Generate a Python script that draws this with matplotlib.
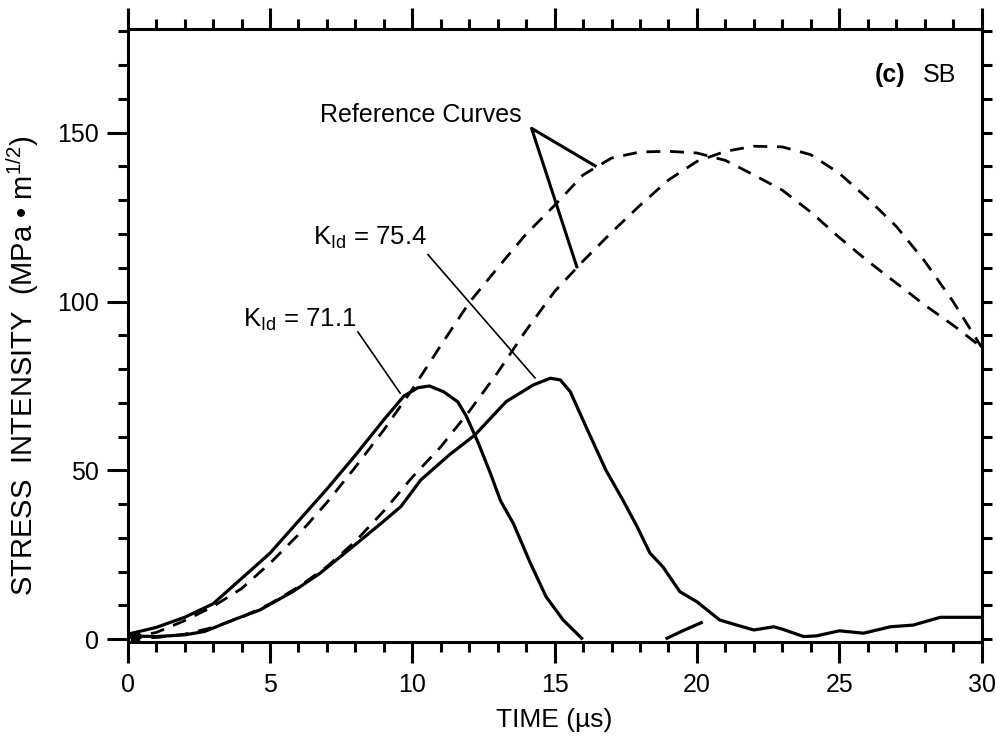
import matplotlib
matplotlib.use('Agg')
import matplotlib.pyplot as plt
from matplotlib.ticker import MultipleLocator

plt.rcParams['font.family'] = ['Liberation Sans', 'DejaVu Sans']
plt.rcParams['mathtext.fontset'] = 'custom'
plt.rcParams['mathtext.rm'] = 'Liberation Sans'
plt.rcParams['mathtext.it'] = 'Liberation Sans'

# reference curve 1 (pairs with K_Id = 71.1)
ref1_t = [0, 1, 2, 3, 4, 5, 6, 7, 8, 9, 10, 11, 12, 13, 14, 15, 16, 17, 18, 19, 20,
          21, 22, 23, 24, 25, 26, 27, 28, 29, 30]
ref1_k = [0.5, 2, 5.5, 9.7, 15, 22.5, 31, 40.5, 51, 62, 74, 87, 99.7, 110, 120, 128.5,
          137.5, 142.5, 144.3, 144.5, 144, 141.8, 137.5, 133, 126.5, 119, 112, 105.5,
          99, 93, 86.5]
# reference curve 2 (pairs with K_Id = 75.4)
ref2_t = [0, 1, 2, 3, 4, 5, 6, 7, 8, 9, 10, 11, 12, 13, 14, 15, 16, 17, 18, 19, 20,
          21, 22, 23, 24, 25, 26, 27, 28, 29, 30]
ref2_k = [0.5, 0.5, 1.5, 3.5, 6.5, 10.5, 15.5, 21.5, 29, 38, 48, 57, 67.5, 79, 91.5,
          103, 112, 120.5, 128.5, 136, 141.5, 144.5, 146, 145.8, 143.5, 138, 130.5,
          122.3, 112, 100, 86.5]

# measured K, specimen with K_Id = 71.1
a_t = [0, 0.5, 1, 2, 3, 4, 5, 6, 7, 8, 9, 9.7, 10.2, 10.6, 11.1, 11.6, 11.9, 12.3,
       12.75, 13.1, 13.55, 14.15, 14.7, 15.3, 15.65, 15.95]
a_k = [1.5, 2.5, 3.5, 6.5, 10.5, 18, 25.5, 35, 44.5, 54.5, 65, 72, 74.5, 75, 73.3,
       70.3, 66, 58.5, 49, 41, 34.3, 22.5, 12.6, 5.7, 2.8, 0.3]

# measured K, specimen with K_Id = 75.4
b_t = [0, 1, 2, 2.7, 3.7, 4.65, 5.8, 6.75, 8.05, 8.9, 9.6, 10.3, 11.3, 12.2, 13.3,
       14.25, 14.85, 15.2, 15.55, 16.1, 16.8, 17.4, 17.9, 18.35, 18.8, 19.4, 20, 20.8,
       21.4, 22, 22.7, 23.0, 23.75, 24.2, 25, 25.85, 26.8, 27.6, 28.55, 30]
b_k = [1, 0.8, 1.3, 2.3, 5.7, 8.7, 14.1, 19.5, 28.4, 34.3, 39.3, 47.2, 54.6, 60.5, 70.4,
       75.3, 77.3, 76.8, 73.3, 63, 50.1, 41.2, 33.3, 25.5, 21.5, 14.1, 11.1, 5.7,
       4.2, 2.75, 3.7, 3.0, 0.8, 1.0, 2.5, 1.8, 3.7, 4.2, 6.5, 6.5]

# short trace near 19-20 us
c_t = [18.95, 19.5, 20.15]
c_k = [0.3, 2.5, 4.9]

fig = plt.figure(figsize=(9.96, 7.45), dpi=100)
ax = fig.add_axes([0.1282, 0.1383, 0.8573, 0.8227])

ax.plot(ref1_t, ref1_k, 'k--', lw=2.0, dashes=(5, 3.5))
ax.plot(ref2_t, ref2_k, 'k--', lw=2.0, dashes=(5, 3.5))
ax.plot(a_t, a_k, 'k-', lw=2.3)
ax.plot(b_t, b_k, 'k-', lw=2.3)
ax.plot(c_t, c_k, 'k-', lw=2.3)
ax.plot([0.25], [0.8], 'ks', ms=6)

# leader lines
ax.plot([8.09, 9.57], [91.0, 72.9], 'k-', lw=1.2)
ax.plot([10.55, 14.31], [113.9, 77.4], 'k-', lw=1.2)
ax.plot([16.42, 14.19, 15.78], [140.2, 151.3, 110.3], 'k-', lw=2.2)

ax.text(6.76, 155.3, 'Reference Curves', fontsize=18, ha='left', va='center')
ax.text(6.51, 118.8, r'$\mathregular{K_{Id}}$ = 75.4', fontsize=18.5, ha='left', va='center')
ax.text(4.05, 94.6, r'$\mathregular{K_{Id}}$ = 71.1', fontsize=18.5, ha='left', va='center')
ax.text(26.26, 167, '(c)', fontsize=18, fontweight='bold', ha='left', va='center')
ax.text(27.92, 167, 'SB', fontsize=18, ha='left', va='center')

ax.set_xlim(0, 30)
ax.set_ylim(-0.8, 180.7)
ax.xaxis.set_major_locator(MultipleLocator(5))
ax.xaxis.set_minor_locator(MultipleLocator(1))
ax.yaxis.set_major_locator(MultipleLocator(50))
ax.yaxis.set_minor_locator(MultipleLocator(10))

ax.tick_params(which='both', direction='out', width=2.2, top=True, right=False,
               labelsize=18, colors='black')
ax.tick_params(which='major', length=15)
ax.tick_params(which='minor', length=7.5)
ax.tick_params(axis='x', which='major', pad=7)
ax.tick_params(axis='y', which='major', pad=6)

# right axis: every 10 units, all ticks the same length
ax_r = ax.twinx()
ax_r.set_ylim(ax.get_ylim())
ax_r.yaxis.set_major_locator(MultipleLocator(10))
ax_r.tick_params(direction='out', width=2.2, length=7.5, labelright=False)
for s in ax_r.spines.values():
    s.set_visible(False)

for s in ax.spines.values():
    s.set_linewidth(2.2)

ax.set_xlabel('TIME (µs)', fontsize=19, labelpad=8)
fig.text(0.023, 0.509, 'STRESS  INTENSITY  (MPa • m$^{\\mathregular{1/2}}$)',
         fontsize=21, rotation=90, ha='center', va='center')

fig.savefig('out.png', dpi=100)
